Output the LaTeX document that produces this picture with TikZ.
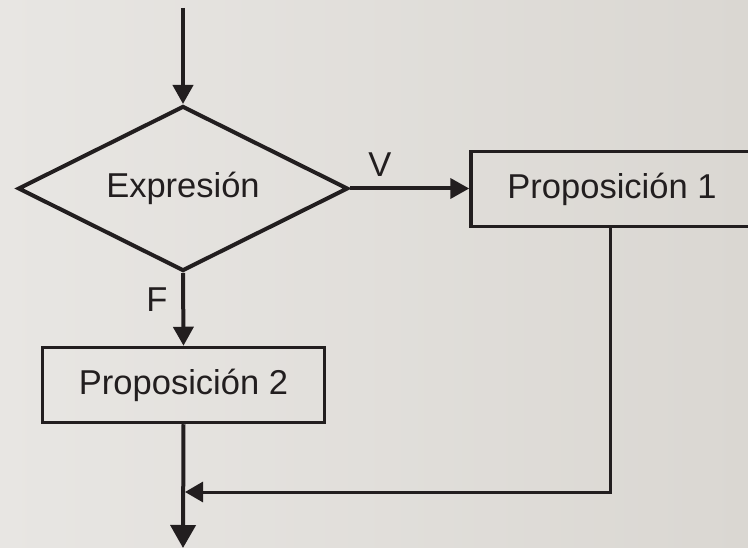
\documentclass[tikz,border=0pt]{standalone}
\usepackage{fontspec}
\setmainfont{Liberation Sans}
\usetikzlibrary{shapes.geometric,arrows.meta}
\definecolor{ink}{HTML}{221E1F}
\definecolor{bgl}{HTML}{E8E6E3}
\definecolor{bgr}{HTML}{DAD7D2}
\begin{document}
\begin{tikzpicture}[x=1pt,y=-1pt,
  every node/.style={font=\fontsize{34.5}{40}\selectfont, text=ink},
  decision/.style={draw=ink, line width=4pt, shape=diamond, aspect=2,
    minimum width=330pt, minimum height=165pt, inner sep=0pt},
  procbox/.style={draw=ink, line width=3.5pt, rectangle,
    minimum width=282pt, minimum height=75pt, inner sep=0pt},
  flow/.style={draw=ink, line width=4pt, -{Triangle[length=19pt,width=20pt]}},
  bigflow/.style={draw=ink, line width=4pt, -{Triangle[length=23pt,width=25pt]}},
  joinflow/.style={draw=ink, line width=3pt, -{Triangle[length=18pt,width=20pt]}},
  lbl/.style={inner sep=0pt}
]
\fill[left color=bgl, right color=bgr] (0,0) rectangle (748,548);
\useasboundingbox (0,0) rectangle (748,548);
\clip (0,0) rectangle (748,548);

\node[decision] (expr) at (183,188.5) {Expresión};
\node[procbox] (p1) at (612,189) {Proposición 1};
\node[procbox] (p2) at (183.5,385) {Proposición 2};

\coordinate (start) at (183,8);
\coordinate (join) at (185,492);
\coordinate (finish) at (183,548);

\draw[flow] (start) -- (expr.north);
\draw[flow] (expr.east) -- (p1.west |- expr.east);
\draw[flow] (expr.south) -- (p2.north);
\draw[bigflow] (p2.south) -- (finish);
\draw[joinflow] ([xshift=-2pt]p1.south) |- (join);

\node[lbl] (vlab) at (380,165) {V};
\node[lbl] (flab) at (157,300) {F};
\end{tikzpicture}
\end{document}
